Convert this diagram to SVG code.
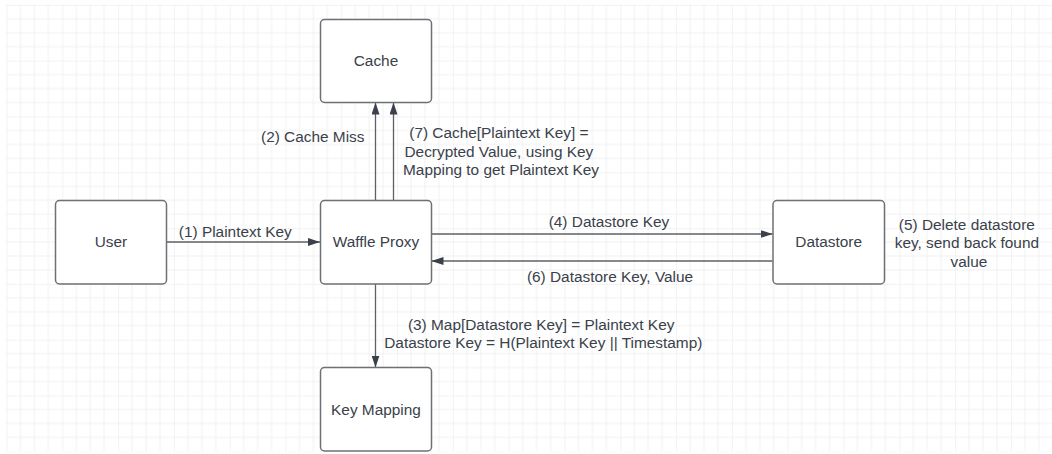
<svg xmlns="http://www.w3.org/2000/svg" width="1052" height="454" viewBox="0 0 1052 454">
  <defs>
    <!-- canvas grid: minor lines every 13.95px, a slightly darker line every 4th -->
    <pattern id="grid" x="6.5" y="4.9" width="55.8" height="55.8" patternUnits="userSpaceOnUse">
      <path d="M13.95,0 V55.8 M27.9,0 V55.8 M41.85,0 V55.8 M0,13.95 H55.8 M0,27.9 H55.8 M0,41.85 H55.8" stroke="#f1f1f1" stroke-width="1" fill="none"/>
      <path d="M0,0 V55.8 M0,0 H55.8" stroke="#e7e7e7" stroke-width="1" fill="none"/>
    </pattern>
    <marker id="arrow" viewBox="0 0 12 8" refX="12" refY="4" markerWidth="12" markerHeight="8" markerUnits="userSpaceOnUse" orient="auto">
      <path d="M0,0 L12,4 L0,8 z" fill="#3a414a"/>
    </marker>
  </defs>
  <style>
    .box { fill: #ffffff; stroke: #6d7075; stroke-width: 1.5; }
    .edge { fill: none; stroke: #5d6166; stroke-width: 1.3; marker-end: url(#arrow); }
    text { font-family: "Liberation Sans", Arial, sans-serif; font-size: 15.4px; fill: #3a414a; }
    .c { text-anchor: middle; }
  </style>

  <rect width="1052" height="454" fill="#ffffff"/>
  <rect x="6" y="4.5" width="1046" height="447" fill="url(#grid)"/>

  <!-- connectors -->
  <g id="connectors">
    <path class="edge" d="M166.5,242 H320"/>
    <path class="edge" d="M375.5,200 V102.5"/>
    <path class="edge" d="M393.5,200 V102.5"/>
    <path class="edge" d="M431.5,234 H772.5"/>
    <path class="edge" d="M772.5,261 H431.5"/>
    <path class="edge" d="M375.5,284 V367.5"/>

    <text class="c" x="235.3" y="236.5">(1) Plaintext Key</text>
    <text x="364.5" y="141.5" text-anchor="end">(2) Cache Miss</text>
    <text class="c" x="543.3">
      <tspan x="543.3" y="330">(3) Map[Datastore Key] = Plaintext Key</tspan>
      <tspan x="543.3" y="348.3">Datastore Key = H(Plaintext Key || Timestamp)</tspan>
    </text>
    <text class="c" x="609" y="226.7">(4) Datastore Key</text>
    <text class="c">
      <tspan x="969" y="229.8">(5) Delete datastore</tspan>
      <tspan x="969" y="248.2">key, send back found</tspan>
      <tspan x="969" y="266.6">value</tspan>
    </text>
    <text class="c" x="610" y="281.7">(6) Datastore Key, Value</text>
    <text class="c">
      <tspan x="501" y="138.3">(7) Cache[Plaintext Key] =</tspan>
      <tspan x="501" y="156.7">Decrypted Value, using Key</tspan>
      <tspan x="501" y="175.1">Mapping to get Plaintext Key</tspan>
    </text>
  </g>

  <!-- nodes -->
  <g id="cache">
    <rect class="box" x="320.5" y="19.5" width="111" height="83" rx="4"/>
    <text class="c" x="376" y="66.3">Cache</text>
  </g>
  <g id="user">
    <rect class="box" x="55.5" y="200.5" width="111" height="83.5" rx="4"/>
    <text class="c" x="111" y="247.3">User</text>
  </g>
  <g id="waffle-proxy">
    <rect class="box" x="320.5" y="200.5" width="111" height="83.5" rx="4"/>
    <text class="c" x="376" y="247.3">Waffle Proxy</text>
  </g>
  <g id="datastore">
    <rect class="box" x="773" y="200.5" width="111.5" height="83.5" rx="4"/>
    <text class="c" x="828.7" y="247.3">Datastore</text>
  </g>
  <g id="key-mapping">
    <rect class="box" x="320.5" y="367.5" width="111" height="83.5" rx="4"/>
    <text class="c" x="376" y="414.5">Key Mapping</text>
  </g>
</svg>
